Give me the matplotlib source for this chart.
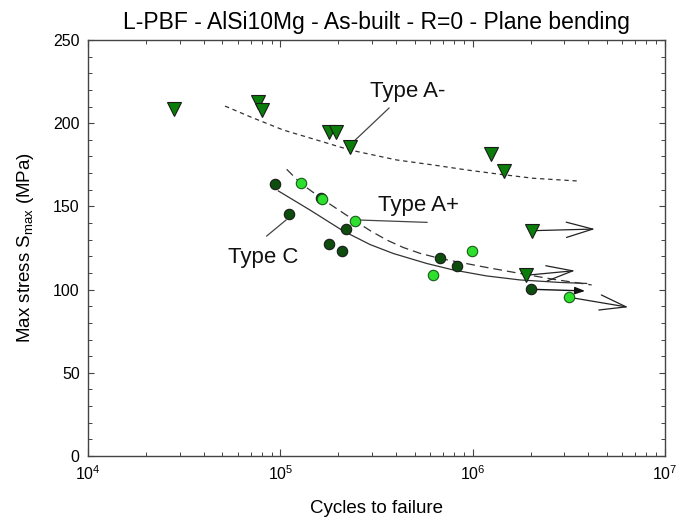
import matplotlib
matplotlib.use("Agg")
import matplotlib.pyplot as plt
from matplotlib.patches import FancyArrowPatch
from matplotlib.ticker import MultipleLocator, LogLocator, NullFormatter

plt.rcParams['font.family'] = ['Liberation Sans', 'DejaVu Sans']
plt.rcParams['mathtext.fontset'] = 'custom'
plt.rcParams['mathtext.rm'] = 'Liberation Sans'
plt.rcParams['mathtext.it'] = 'Liberation Sans:italic'
plt.rcParams['mathtext.bf'] = 'Liberation Sans:bold'

# ---------------- data ----------------
# Type A- (triangles)
typeA_minus_N = [27900, 76900, 80300, 179100, 195400, 229500, 1.241e6, 1.460e6, 2.028e6, 1.894e6]
typeA_minus_S = [208.5, 212.9, 208.1, 194.5, 194.5, 185.7, 181.3, 171.5, 135.4, 108.6]
# Type A+ (light circles)
typeA_plus_N = [127600, 165300, 245400, 995600, 619700, 3.169e6]
typeA_plus_S = [163.9, 154.4, 141.2, 123.2, 109.0, 95.4]
# Type C (dark circles)
typeC_N = [93800, 111400, 220300, 179700, 210000, 678600, 828800, 2.011e6, 162100]
typeC_S = [163.6, 145.4, 136.4, 127.2, 123.2, 118.7, 113.9, 100.2, 155.0]

# run-out arrows (start -> end)
runout_start_N = [2.028e6, 1.894e6, 3.169e6, 2.011e6]
runout_start_S = [135.4, 108.6, 95.4, 100.2]
runout_end_N = [4.325e6, 3.405e6, 6.446e6, 3.838e6]
runout_end_S = [136.4, 111.4, 89.4, 99.2]
runout_style = ['open', 'open', 'open', 'solid']

# fitted curves
curveA_minus_N = [51560, 69560, 103600, 154600, 230300, 402700, 624200, 931000, 1.388e6, 2.067e6, 3.475e6]
curveA_minus_S = [210.3, 203.9, 195.9, 189.9, 183.9, 177.9, 174.9, 171.9, 169.3, 166.9, 165.3]
curveA_plus_N = [107900, 127600, 165300, 245400, 292500, 357400, 435900, 532300, 676300, 1.183e6, 1.763e6, 2.626e6, 4.157e6]
curveA_plus_S = [172.3, 163.9, 154.4, 141.2, 135.5, 129.8, 125.3, 121.8, 118.7, 113.3, 109.7, 106.2, 102.8]
curveC_N = [97600, 142700, 212600, 292500, 386700, 576900, 793300, 1.183e6, 1.763e6, 2.846e6, 3.917e6]
curveC_S = [159.3, 147.8, 135.2, 127.1, 121.7, 115.7, 111.8, 108.2, 105.8, 104.3, 103.7]

title = "L-PBF - AlSi10Mg - As-built - R=0 - Plane bending"
xlabel = "Cycles to failure"
ylabel = r"Max stress S$_{\mathrm{max}}$ (MPa)"

# ---------------- figure ----------------
fig = plt.figure(figsize=(6.78, 5.20), dpi=100)
ax = fig.add_axes([88/678, 64/520, 577/678, 416/520])
ax.set_xscale('log')
ax.set_xlim(1e4, 1e7)
ax.set_ylim(0, 250)

# curves
ax.plot(curveA_minus_N, curveA_minus_S, color='#333333', lw=0.9, ls=(0, (3.5, 3)), zorder=2)
ax.plot(curveA_plus_N, curveA_plus_S, color='#333333', lw=0.9, ls=(0, (7, 4)), zorder=2)
ax.plot(curveC_N, curveC_S, color='#333333', lw=0.9, ls='-', zorder=2)

# run-out arrows
for x0, y0, x1, y1, st in zip(runout_start_N, runout_start_S, runout_end_N, runout_end_S, runout_style):
    if st == 'open':
        arr = FancyArrowPatch((x0, y0), (x1, y1), arrowstyle='->,head_length=19,head_width=5.5',
                              mutation_scale=1, color='#222222', lw=0.9, zorder=3,
                              shrinkA=0, shrinkB=0)
    else:
        arr = FancyArrowPatch((x0, y0), (x1, y1), arrowstyle='-|>,head_length=6,head_width=2.2',
                              mutation_scale=1, color='#111111', lw=1.0, zorder=3,
                              shrinkA=0, shrinkB=0)
    ax.add_patch(arr)

# points
ax.plot(typeA_minus_N, typeA_minus_S, ls='none', marker='v', ms=9.5, mfc='#0a7d0a', mec='#1a1a1a', mew=0.8, zorder=4)
ax.plot(typeC_N, typeC_S, ls='none', marker='o', ms=7.5, mfc='#0d4d0d', mec='#1a1a1a', mew=0.8, zorder=4)
ax.plot(typeA_plus_N, typeA_plus_S, ls='none', marker='o', ms=7.5, mfc='#2ee02e', mec='#1a5a1a', mew=0.8, zorder=5)

# annotations
ax.plot([230300, 367300], [186.9, 209.1], color='#444444', lw=0.9, zorder=3)
ax.text(292500, 218.8, "Type A-", fontsize=16, ha='left', va='center', color='#111111')
ax.plot([259500, 578800], [141.8, 140.4], color='#444444', lw=0.9, zorder=3)
ax.text(322000, 150.8, "Type A+", fontsize=16, ha='left', va='center', color='#111111')
ax.plot([84940, 107000], [132.2, 141.8], color='#444444', lw=0.9, zorder=3)
ax.text(81260, 119.0, "Type C", fontsize=16, ha='center', va='center', color='#111111')

# axes styling
for sp in ax.spines.values():
    sp.set_color('#444444')
    sp.set_linewidth(1.0)
ax.yaxis.set_major_locator(MultipleLocator(50))
ax.yaxis.set_minor_locator(MultipleLocator(10))
ax.xaxis.set_major_locator(LogLocator(base=10, numticks=10))
ax.xaxis.set_minor_locator(LogLocator(base=10, subs=range(2, 10), numticks=20))
ax.xaxis.set_minor_formatter(NullFormatter())
ax.tick_params(which='both', direction='in', top=True, right=True, color='#444444')
ax.tick_params(which='major', length=5, width=0.8, labelsize=11.5, pad=6)
ax.tick_params(which='minor', length=3, width=0.7)
ax.tick_params(axis='y', which='major', length=4)

ax.set_title(title, fontsize=16.5, pad=8)
ax.set_xlabel(xlabel, fontsize=13.5, labelpad=12)
ax.set_ylabel(ylabel, fontsize=13.5, labelpad=12)

fig.savefig("out.png", dpi=100)
